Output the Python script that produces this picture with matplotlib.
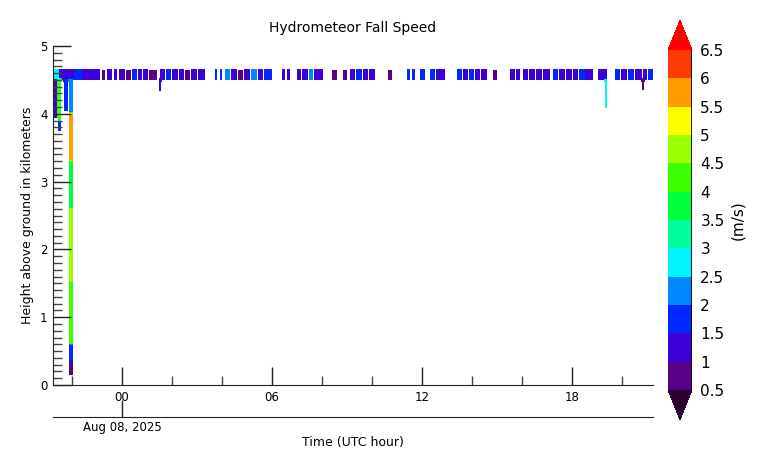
import matplotlib
matplotlib.use('Agg')
import matplotlib.pyplot as plt
import numpy as np
from matplotlib.colors import ListedColormap

# --- data (hours from 00 UTC Aug 08, km, m/s) ---
band_bottom = 4.50
band_top = 4.65
band_start = [-2.76, -2.52, -2.20, -1.90, -1.60, -1.30, -0.80, -0.60, -0.32, -0.12,
              0.16, 0.40, 0.64, 0.84, 1.08, 1.52, 1.76, 2.00, 2.28, 2.52,
              2.76, 3.04, 3.72, 3.92, 4.12, 4.36, 4.64, 4.88, 5.16, 5.44,
              5.68, 6.40, 6.60, 7.00, 7.20, 7.48, 7.68, 8.40, 8.84, 9.12,
              9.36, 9.64, 9.88, 10.64, 11.40, 11.60, 11.92, 12.32, 12.56, 13.40,
              13.64, 13.88, 14.12, 14.36, 14.84, 15.52, 15.76, 16.04, 16.28, 16.56,
              16.84, 17.24, 17.48, 17.76, 18.04, 18.28, 18.54, 19.04, 19.72, 19.96,
              20.24, 20.52, 20.84, 21.04]
band_end = [-2.52, -2.20, -1.90, -1.60, -1.30, -0.88, -0.68, -0.40, -0.20, 0.12,
            0.36, 0.60, 0.80, 1.04, 1.40, 1.72, 1.96, 2.24, 2.48, 2.72,
            3.00, 3.32, 3.80, 4.00, 4.32, 4.60, 4.84, 5.12, 5.40, 5.64,
            6.00, 6.52, 6.72, 7.16, 7.44, 7.64, 8.04, 8.60, 9.00, 9.32,
            9.60, 9.84, 10.12, 10.80, 11.52, 11.72, 12.12, 12.52, 12.92, 13.60,
            13.84, 14.08, 14.32, 14.60, 15.00, 15.72, 15.92, 16.24, 16.52, 16.80,
            17.12, 17.44, 17.72, 18.00, 18.24, 18.50, 18.84, 19.40, 19.92, 20.20,
            20.48, 20.80, 21.00, 21.24]
band_speed = [2.6, 1.4, 1.2, 1.8, 1.1, 1.4, 1.0, 1.3, 1.2, 1.4,
              1.0, 1.7, 1.1, 1.3, 0.9, 1.2, 1.6, 1.1, 1.4, 1.0,
              1.5, 1.2, 1.8, 1.6, 2.3, 1.2, 1.0, 1.4, 2.4, 1.3,
              2.0, 1.4, 1.1, 1.1, 1.5, 2.2, 1.2, 1.0, 0.9, 1.3,
              2.0, 1.1, 1.2, 0.9, 1.6, 1.9, 1.8, 2.0, 1.3, 1.7,
              1.1, 1.8, 1.2, 1.5, 0.9, 1.3, 1.1, 1.4, 1.1, 1.5,
              1.2, 1.6, 1.2, 1.4, 1.2, 1.9, 1.3, 1.3, 1.8, 1.2,
              1.6, 1.2, 1.5, 1.9]

dip_time = [1.52, 19.36, 20.84]
dip_bottom = [4.35, 4.10, 4.35]
dip_speed = [1.2, 2.6, 1.0]

streak_t0 = [-2.72, -2.56, -2.32, -2.12]
streak_t1 = [-2.56, -2.44, -2.16, -1.98]
layer_streak = [0, 1, 1, 2, 3, 3, 3, 3, 3, 3, 3]
layer_top = [4.50, 4.50, 3.90, 4.50, 4.50, 4.00, 3.30, 2.60, 1.50, 0.60, 0.35]
layer_bottom = [3.95, 3.90, 3.75, 4.05, 4.00, 3.30, 2.60, 1.50, 0.60, 0.35, 0.15]
layer_speed = [1.2, 4.2, 2.0, 1.6, 2.2, 5.7, 4.0, 4.7, 4.3, 2.0, 0.9]

levels = [0.5, 1, 1.5, 2, 2.5, 3, 3.5, 4, 4.5, 5, 5.5, 6, 6.5]
colors = ['#580088', '#3c00d8', '#0028ff', '#0088ff', '#00f4ff', '#00ff9c',
          '#00ff3c', '#3cff00', '#9cff00', '#ffff00', '#ff9c00', '#ff3c00']

# --- build the time/height field ---
t = np.arange(-2.76, 21.25, 0.02)
z = np.arange(0.0, 4.70, 0.025)
field = np.full((len(z), len(t)), np.nan)
eps = 1e-6


def fill(t0, t1, zb, zt, v):
    cols = (t >= t0 - eps) & (t <= t1 + eps)
    rows = (z >= zb - eps) & (z <= zt + eps)
    field[np.ix_(rows, cols)] = v


for s, e, v in zip(band_start, band_end, band_speed):
    fill(s, e, band_bottom, band_top, v)
for tm, b, v in zip(dip_time, dip_bottom, dip_speed):
    fill(tm - 0.04, tm + 0.04, b, band_bottom, v)
for k, top, bot, v in zip(layer_streak, layer_top, layer_bottom, layer_speed):
    fill(streak_t0[k], streak_t1[k], bot, top, v)

cmap = ListedColormap(colors)
cmap.set_under('#2d0032')
cmap.set_over('#ff0000')

fig = plt.figure(figsize=(7.69, 4.67), dpi=100)
ax = fig.add_axes([53 / 769, 82 / 467, 600 / 769, 339 / 467])
cs = ax.contourf(t, z, np.ma.masked_invalid(field), levels=levels, cmap=cmap,
                 extend='both')

ax.set_xlim(-2.76, 21.24)
ax.set_ylim(0, 5)
ax.spines['top'].set_visible(False)
ax.spines['right'].set_visible(False)
for sp in ('left', 'bottom'):
    ax.spines[sp].set_color('#222222')

ax.set_xticks([0, 6, 12, 18], labels=['00', '06', '12', '18'])
ax.set_xticks([-2, 2, 4, 8, 10, 14, 16, 20], minor=True)
ax.set_yticks([0, 1, 2, 3, 4, 5])
ax.set_yticks(np.arange(0, 5.01, 0.1), minor=True)
ax.tick_params(which='major', direction='in', length=12.8, width=1, labelsize=8.5,
               color='#222222', pad=4)
ax.tick_params(which='minor', direction='in', length=6.5, width=1, color='#444444')
ax.set_ylabel('Height above ground in kilometers', fontsize=9, labelpad=4)
ax.set_title('Hydrometeor Fall Speed', fontsize=10, pad=10)

sec = ax.secondary_xaxis(-32 / 339)
sec.set_xticks([0], labels=['Aug 08, 2025'])
sec.tick_params(direction='in', length=12.5, width=1, labelsize=8.5, color='#222222', pad=3)
sec.spines['bottom'].set_color('#222222')
sec.set_xlabel('Time (UTC hour)', fontsize=9, labelpad=1)

cax = fig.add_axes([668 / 769, 47 / 467, 24 / 769, 400 / 467])
cb = fig.colorbar(cs, cax=cax, extend='both', extendfrac=30 / 340, ticks=levels)
cb.outline.set_visible(False)
cax.axvline(1, color='black', lw=1.2)
cb.ax.set_yticklabels([f'{v:g}' for v in levels])
cb.ax.tick_params(length=0, labelsize=11, pad=6)
cb.set_label('(m/s)', fontsize=11, labelpad=4)

fig.savefig('out.png', dpi=100)
